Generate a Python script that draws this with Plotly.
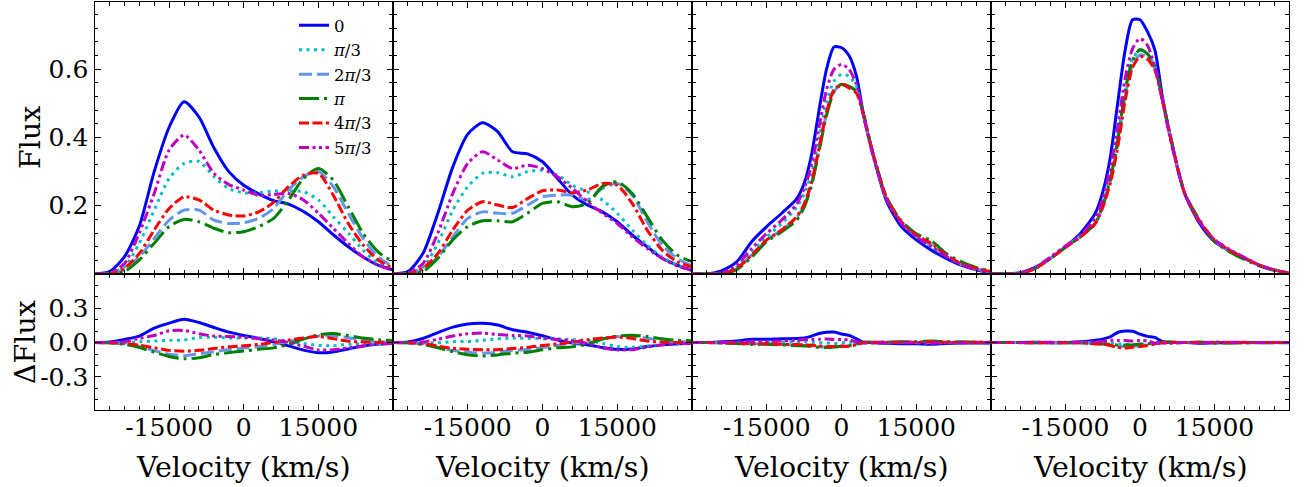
import numpy as np
import plotly.graph_objects as go

# ---------------- data ----------------
LABELS = ["0", "<i>π</i>/3", "2<i>π</i>/3", "<i>π</i>", "4<i>π</i>/3", "5<i>π</i>/3"]
COLORS = ["#0000FF", "#00BFBF", "#6495ED", "#008000", "#FF0000", "#BF00BF"]
DASHES = ["solid", "3px,4.5px", "13px,5px", "20px,5px,3px,5px",
          "10px,3.5px,10px,3.5px,3px,3.5px", "10px,3.5px,3px,3.5px,3px,3.5px"]

V_A = [-30000, -27000, -24000, -21000, -18000, -15000, -12000, -9000, -6000, -3000, 0,
       3000, 6000, 9000, 12000, 15000, 18000, 21000, 24000, 27000, 30000]
V_B = [-30000, -27000, -24000, -21000, -18000, -15000, -12000, -9000, -7500, -6000, -4500,
       -3000, -1500, 0, 1500, 3000, 4500, 6000, 9000, 12000, 15000, 18000, 21000, 24000,
       27000, 30000]

# panel 1 (order: 0, pi/3, 2pi/3, pi, 4pi/3, 5pi/3)
P1_0 = [0.0, 0.007, 0.05, 0.14, 0.30, 0.43, 0.505, 0.46, 0.37, 0.30, 0.26, 0.235, 0.215, 0.205, 0.183, 0.153, 0.115, 0.08, 0.05, 0.026, 0.012]
P1_1 = [0.0, 0.002, 0.02, 0.09, 0.187, 0.28, 0.324, 0.33, 0.285, 0.25, 0.238, 0.238, 0.243, 0.243, 0.241, 0.217, 0.168, 0.12, 0.07, 0.03, 0.012]
P1_2 = [0.0, 0.001, 0.012, 0.05, 0.104, 0.158, 0.187, 0.187, 0.158, 0.148, 0.15, 0.163, 0.192, 0.246, 0.285, 0.30, 0.256, 0.178, 0.104, 0.05, 0.021]
P1_3 = [0.0, 0.0, 0.007, 0.041, 0.09, 0.139, 0.16, 0.153, 0.134, 0.121, 0.124, 0.139, 0.163, 0.217, 0.28, 0.309, 0.275, 0.197, 0.119, 0.065, 0.035]
P1_4 = [0.0, 0.001, 0.017, 0.06, 0.129, 0.192, 0.226, 0.217, 0.187, 0.173, 0.17, 0.182, 0.21, 0.256, 0.29, 0.295, 0.231, 0.148, 0.085, 0.041, 0.017]
P1_5 = [0.0, 0.004, 0.03, 0.12, 0.236, 0.363, 0.407, 0.363, 0.295, 0.262, 0.246, 0.231, 0.233, 0.236, 0.217, 0.178, 0.134, 0.09, 0.05, 0.026, 0.01]

# panel 2
P2_0 = [0.0, 0.007, 0.06, 0.178, 0.314, 0.41, 0.443, 0.417, 0.358, 0.352, 0.329, 0.28, 0.231, 0.202, 0.182, 0.153, 0.114, 0.08, 0.046, 0.026, 0.01]
P2_1 = [0.0, 0.002, 0.02, 0.09, 0.187, 0.256, 0.295, 0.297, 0.285, 0.30, 0.304, 0.29, 0.26, 0.241, 0.217, 0.178, 0.129, 0.085, 0.05, 0.026, 0.012]
P2_2 = [0.0, 0.001, 0.012, 0.05, 0.109, 0.163, 0.182, 0.178, 0.178, 0.202, 0.226, 0.231, 0.231, 0.217, 0.251, 0.265, 0.231, 0.153, 0.085, 0.046, 0.023]
P2_3 = [0.0, 0.0, 0.007, 0.046, 0.10, 0.139, 0.156, 0.156, 0.153, 0.178, 0.207, 0.212, 0.197, 0.207, 0.256, 0.27, 0.236, 0.168, 0.10, 0.056, 0.036]
P2_4 = [0.0, 0.001, 0.017, 0.06, 0.129, 0.187, 0.212, 0.202, 0.195, 0.221, 0.244, 0.246, 0.238, 0.246, 0.265, 0.26, 0.207, 0.129, 0.07, 0.036, 0.021]
P2_5 = [0.0, 0.004, 0.03, 0.12, 0.236, 0.324, 0.358, 0.334, 0.309, 0.319, 0.309, 0.285, 0.251, 0.212, 0.178, 0.148, 0.109, 0.075, 0.046, 0.024, 0.012]

# panel 3
P3_0 = [0.0, 0.0, 0.01, 0.036, 0.095, 0.139, 0.178, 0.22, 0.265, 0.35, 0.48, 0.60, 0.665, 0.663, 0.64, 0.58, 0.46, 0.37, 0.215, 0.139, 0.10, 0.07, 0.046, 0.026, 0.012, 0.002]
P3_1 = [0.0, 0.0, 0.002, 0.02, 0.065, 0.109, 0.148, 0.195, 0.235, 0.295, 0.40, 0.505, 0.565, 0.585, 0.58, 0.55, 0.46, 0.365, 0.22, 0.15, 0.11, 0.08, 0.052, 0.028, 0.013, 0.004]
P3_2 = [0.0, 0.0, 0.0, 0.015, 0.056, 0.098, 0.129, 0.166, 0.20, 0.265, 0.365, 0.47, 0.535, 0.555, 0.55, 0.535, 0.46, 0.37, 0.225, 0.153, 0.112, 0.085, 0.053, 0.03, 0.015, 0.005]
P3_3 = [0.0, 0.0, 0.0, 0.013, 0.05, 0.095, 0.124, 0.158, 0.195, 0.26, 0.36, 0.465, 0.535, 0.556, 0.55, 0.535, 0.465, 0.372, 0.226, 0.156, 0.118, 0.098, 0.06, 0.036, 0.019, 0.009]
P3_4 = [0.0, 0.0, 0.0, 0.017, 0.056, 0.10, 0.129, 0.168, 0.205, 0.27, 0.37, 0.475, 0.54, 0.555, 0.545, 0.53, 0.46, 0.37, 0.225, 0.153, 0.114, 0.09, 0.056, 0.031, 0.017, 0.007]
P3_5 = [0.0, 0.0, 0.004, 0.026, 0.075, 0.119, 0.158, 0.205, 0.25, 0.32, 0.43, 0.54, 0.60, 0.614, 0.60, 0.555, 0.46, 0.365, 0.22, 0.148, 0.109, 0.08, 0.052, 0.028, 0.013, 0.004]

# panel 4
P4_0 = [0.0, 0.0, 0.004, 0.02, 0.046, 0.08, 0.119, 0.178, 0.24, 0.34, 0.50, 0.655, 0.745, 0.745, 0.71, 0.656, 0.52, 0.41, 0.236, 0.148, 0.095, 0.068, 0.046, 0.026, 0.012, 0.002]
P4_1 = [0.0, 0.0, 0.002, 0.018, 0.048, 0.08, 0.112, 0.155, 0.205, 0.285, 0.40, 0.54, 0.63, 0.655, 0.645, 0.605, 0.51, 0.405, 0.236, 0.155, 0.10, 0.07, 0.047, 0.026, 0.012, 0.003]
P4_2 = [0.0, 0.0, 0.002, 0.017, 0.046, 0.079, 0.11, 0.15, 0.198, 0.27, 0.38, 0.52, 0.612, 0.642, 0.635, 0.60, 0.51, 0.408, 0.236, 0.155, 0.098, 0.068, 0.045, 0.025, 0.011, 0.003]
P4_3 = [0.0, 0.0, 0.002, 0.017, 0.046, 0.078, 0.109, 0.148, 0.20, 0.275, 0.39, 0.534, 0.626, 0.658, 0.645, 0.607, 0.515, 0.412, 0.236, 0.158, 0.095, 0.065, 0.043, 0.024, 0.011, 0.003]
P4_4 = [0.0, 0.0, 0.002, 0.017, 0.046, 0.078, 0.108, 0.148, 0.195, 0.265, 0.37, 0.507, 0.605, 0.637, 0.63, 0.597, 0.51, 0.41, 0.236, 0.155, 0.10, 0.07, 0.047, 0.026, 0.012, 0.003]
P4_5 = [0.0, 0.0, 0.003, 0.02, 0.05, 0.082, 0.114, 0.165, 0.22, 0.31, 0.43, 0.573, 0.66, 0.69, 0.67, 0.607, 0.51, 0.402, 0.236, 0.153, 0.10, 0.072, 0.049, 0.026, 0.012, 0.003]

PANELS = [
    (V_A, [P1_0, P1_1, P1_2, P1_3, P1_4, P1_5]),
    (V_A, [P2_0, P2_1, P2_2, P2_3, P2_4, P2_5]),
    (V_B, [P3_0, P3_1, P3_2, P3_3, P3_4, P3_5]),
    (V_B, [P4_0, P4_1, P4_2, P4_3, P4_4, P4_5]),
]

XTICKS = [-15000, 0, 15000]
XTICKTEXT = ["-15000", "0", "15000"]
YTICKS_TOP = [0.2, 0.4, 0.6]
YTICKTEXT_TOP = ["0.2", "0.4", "0.6"]
YTICKS_BOT = [-0.3, 0.0, 0.3]
YTICKTEXT_BOT = ["-0.3", "0.0", "0.3"]

# ---------------- layout geometry ----------------
W, H = 1304, 487
LEFTS = [94.5, 393, 692, 991]
RIGHTS = [393, 692, 991, 1289]
TOP_Y = [1 - 274 / H, 1 - 2 / H]
BOT_Y = [1 - 410 / H, 1 - 274 / H]
FONT = "DejaVu Serif"

fig = go.Figure()

for p, (v, series) in enumerate(PANELS):
    arr = np.array(series)
    delta = arr - arr.mean(axis=0)
    for k in range(6):
        common = dict(mode="lines", line=dict(color=COLORS[k], width=3, dash=DASHES[k],
                                              shape="spline", smoothing=0.7),
                      name=LABELS[k], hoverinfo="skip")
        fig.add_trace(go.Scatter(x=v, y=arr[k], xaxis=f"x{p+1}", yaxis=f"y{p+1}",
                                 showlegend=(p == 0), **common))
        fig.add_trace(go.Scatter(x=v, y=delta[k], xaxis=f"x{p+5}", yaxis=f"y{p+5}",
                                 showlegend=False, **common))

tickfont = dict(family=FONT, size=25, color="black")


def xax(p, anchor, labels):
    return dict(domain=[LEFTS[p] / W, RIGHTS[p] / W], anchor=anchor, range=[-30000, 30000],
                showline=True, mirror="allticks", linecolor="black", linewidth=1.3,
                ticks="inside", ticklen=6, tickwidth=1, tickcolor="black",
                tickmode="array", tickvals=XTICKS, ticktext=XTICKTEXT,
                showticklabels=labels, showgrid=False, zeroline=False, tickfont=tickfont,
                ticklabelstandoff=-5,
                minor=dict(ticks="inside", ticklen=3.5, tickwidth=1, tickcolor="black",
                           tickmode="linear", tick0=0, dtick=3000, showgrid=False))


def yax(dom, anchor, rng, tv, tt, mdt, labels):
    return dict(domain=dom, anchor=anchor, range=rng,
                showline=True, mirror="allticks", linecolor="black", linewidth=1.3,
                ticks="inside", ticklen=6, tickwidth=1, tickcolor="black",
                tickmode="array", tickvals=tv, ticktext=tt,
                showticklabels=labels, showgrid=False, zeroline=False, tickfont=tickfont,
                minor=dict(ticks="inside", ticklen=3.5, tickwidth=1, tickcolor="black",
                           tickmode="linear", tick0=0, dtick=mdt, showgrid=False))


lay = {}
for p in range(4):
    t = p + 1
    b = p + 5
    lay[f"xaxis{t}"] = xax(p, f"y{t}", False)
    lay[f"xaxis{b}"] = xax(p, f"y{b}", True)
    lay[f"yaxis{t}"] = yax(TOP_Y, f"x{t}", [0, 0.797], YTICKS_TOP, YTICKTEXT_TOP, 0.04, p == 0)
    lay[f"yaxis{b}"] = yax(BOT_Y, f"x{b}", [-0.59, 0.6], YTICKS_BOT, YTICKTEXT_BOT, 0.1, p == 0)

annotations = []
for p in range(4):
    annotations.append(dict(x=(LEFTS[p] + RIGHTS[p]) / 2 / W, y=1 - 467 / H, xref="paper",
                            yref="paper", text="Velocity (km/s)", showarrow=False,
                            xanchor="center", yanchor="middle",
                            font=dict(family=FONT, size=28.5, color="black")))
annotations.append(dict(x=30 / W, y=1 - 138 / H, xref="paper", yref="paper", text="Flux",
                        textangle=-90, showarrow=False, xanchor="center", yanchor="middle",
                        font=dict(family=FONT, size=28.5, color="black")))
annotations.append(dict(x=25 / W, y=1 - 342 / H, xref="paper", yref="paper", text="ΔFlux",
                        textangle=-90, showarrow=False, xanchor="center", yanchor="middle",
                        font=dict(family=FONT, size=28.5, color="black")))

fig.update_layout(
    width=W, height=H, margin=dict(l=0, r=0, t=0, b=0),
    paper_bgcolor="white", plot_bgcolor="white",
    showlegend=True,
    legend=dict(x=294 / W, y=1 - 8 / H, xanchor="left", yanchor="top",
                bgcolor="rgba(0,0,0,0)", borderwidth=0,
                font=dict(family=FONT, size=16.5, color="black"), tracegroupgap=0),
    annotations=annotations,
    **lay,
)

fig.write_html("out.html")
